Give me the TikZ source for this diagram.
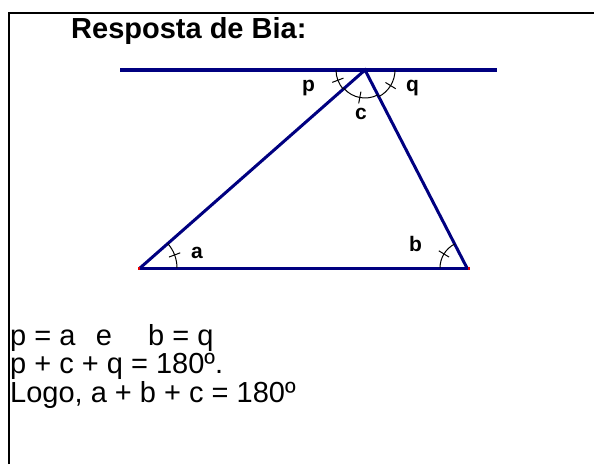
\documentclass[tikz,border=0pt]{standalone}
\usepackage{fontspec}
\setmainfont{Liberation Sans}
\usetikzlibrary{calc}
\definecolor{navy}{RGB}{0,0,128}
\definecolor{vred}{RGB}{230,0,0}
\tikzset{
  side/.style={draw=navy,line width=3pt},
  topside/.style={draw=navy,line width=4pt},
  frame/.style={draw=black,line width=2pt},
  amark/.style={draw=black,line width=1pt},
  lab/.style={anchor=base west,inner sep=0pt,font=\fontsize{21}{21}\selectfont\bfseries},
  body/.style={anchor=base west,inner sep=0pt,font=\fontsize{29}{29}\selectfont},
}
\newcommand{\angmark}[4]{% vertex, start, end, radius
  \draw[amark] ($(#1)+(#2:#4)$) arc[start angle=#2, end angle=#3, radius=#4];
  \draw[amark] ($(#1)+({(#2+#3)/2}:{#4-6})$) -- ($(#1)+({(#2+#3)/2}:{#4+6})$);
}
\begin{document}
\begin{tikzpicture}[x=1pt,y=1pt]
\useasboundingbox (0,0) rectangle (594,464);
% frame
\coordinate (fl) at (9,0);
\coordinate (ftl) at (9,450.5);
\coordinate (ftr) at (594,450.5);
\draw[frame] (fl) -- (ftl) -- (ftr);
% title
\node[body,font=\fontsize{29}{29}\selectfont\bfseries] (title) at (71,425.5) {Resposta de Bia:};
% geometry
\coordinate (L1) at (120,394);
\coordinate (L2) at (497,394);
\coordinate (A) at (365,394);
\coordinate (B) at (140,196);
\coordinate (C) at (467,196);
\coordinate (B0) at (138,196);
\coordinate (C0) at (469,196);
\draw[topside] (L1) -- (L2);
\draw[side] (B) -- (A) -- (C);
\draw[side] (B0) -- (C0);
\fill[vred] ($(B0)+(-0.5,-1.5)$) rectangle ($(B0)+(1.5,1.5)$);
\fill[vred] ($(C0)+(-1.5,-1.5)$) rectangle ($(C0)+(0.5,1.5)$);
% angle marks
\angmark{B}{0}{41.35}{37}
\angmark{C}{117.26}{180}{27}
\angmark{A}{180}{221.35}{29}
\angmark{A}{221.35}{297.26}{28}
\angmark{A}{297.26}{360}{30}
% labels
\node[lab] (lp) at (302,372) {p};
\node[lab] (lq) at (406,372) {q};
\node[lab] (lc) at (355,344) {c};
\node[lab] (la) at (191,206) {a};
\node[lab] (lb) at (409,212) {b};
% text
\node[body] (t1) at (10,119) {p = a\hspace{0.7em}e\hspace{1.25em}b = q};
\node[body] (t2) at (10,91) {p + c + q = 180º.};
\node[body] (t3) at (10,62) {Logo, a + b + c = 180º};
\end{tikzpicture}
\end{document}
